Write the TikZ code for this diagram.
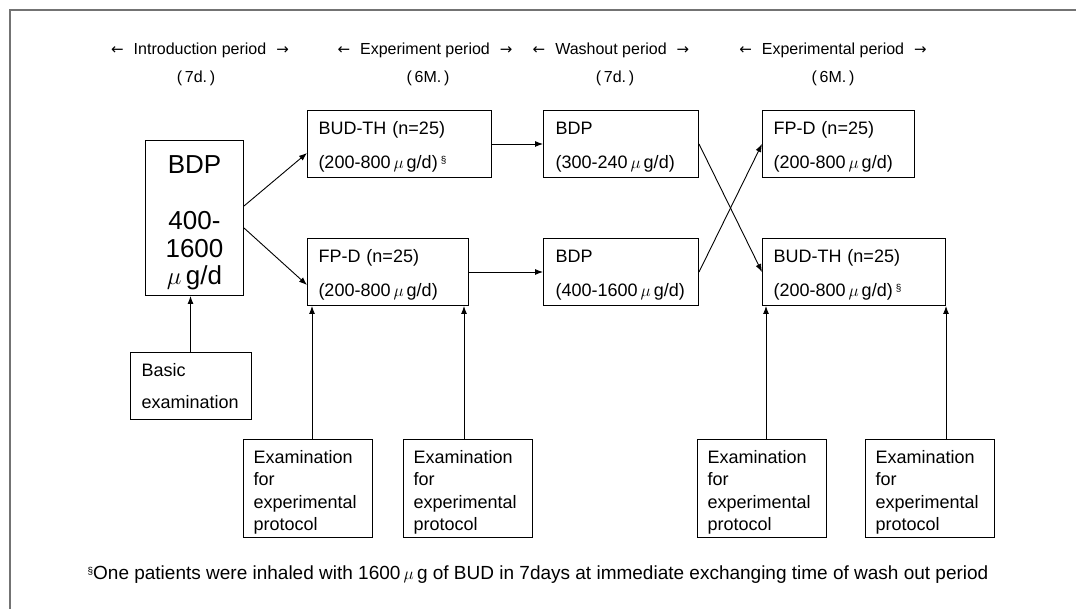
\documentclass[tikz,border=0pt]{standalone}
\usepackage{fontspec}
\setmainfont{Liberation Sans}
\newfontfamily\arrfont{DejaVu Sans}
\usetikzlibrary{arrows.meta,calc}
\newcommand\harr[1]{{\arrfont\fontsize{15}{15}\selectfont #1}}
\newcommand\sect{{\fontsize{10}{10}\selectfont\raisebox{5pt}{§}}}
\newcommand\mug{$\mu$\,g/d}
\newcommand\st[1]{\rule{0pt}{#1}}
\begin{document}
\begin{tikzpicture}[x=1pt,y=-1pt,
 box/.style={draw,line width=1pt,anchor=north west,inner xsep=11pt,inner ysep=0pt,align=left,minimum height=67pt,font=\fontsize{18}{34}\selectfont},
 exam/.style={box,font=\fontsize{18}{22.3}\selectfont,inner xsep=10pt,text width=109pt,minimum height=98pt},
 arr/.style={line width=0.9pt,-{Latex[length=8pt,width=6pt]}},
 hdr/.style={font=\fontsize{16}{18}\selectfont},
 ]
\useasboundingbox (0,0) rectangle (1076,609);
\draw[black!55,line width=1.5pt] (10,609) -- (10,10) -- (1076,10);

% header
\node[hdr] (h1) at (200,50) {\harr{←}\hspace{10pt}Introduction period\hspace{10pt}\harr{→}};
\node[hdr] (d1) at (196,78) {(\,7d.\,)};
\node[hdr] (h2) at (425,50) {\harr{←}\hspace{10pt}Experiment period\hspace{10pt}\harr{→}};
\node[hdr] (d2) at (428,78) {(\,6M.\,)};
\node[hdr] (h3) at (611,50) {\harr{←}\hspace{10pt}Washout period\hspace{10pt}\harr{→}};
\node[hdr] (d3) at (615,78) {(\,7d.\,)};
\node[hdr] (h4) at (833,50) {\harr{←}\hspace{10pt}Experimental period\hspace{10pt}\harr{→}};
\node[hdr] (d4) at (833,78) {(\,6M.\,)};

% boxes
\node[box,inner xsep=0pt,text width=98pt,align=center,minimum height=155pt,font=\fontsize{26}{27.5}\selectfont] (bdpbig) at (145,140)
  {\st{27pt}BDP\\[29pt]400-\\1600\\$\mu$\,g/d};
\node[box,text width=162pt] (budL) at (307,110) {\st{19pt}BUD-TH (n=25)\\(200-800\,\mug)\,\sect};
\node[box,text width=139pt] (fpL) at (307,238) {\st{19pt}FP-D (n=25)\\(200-800\,\mug)};
\node[box,inner xsep=12pt,text width=131pt] (bdp1) at (543,110) {\st{19pt}BDP\\(300-240\,\mug)};
\node[box,inner xsep=12pt,text width=131pt] (bdp2) at (543,238) {\st{19pt}BDP\\(400-1600\,\mug)};
\node[box,text width=130pt] (fpR) at (762,110) {\st{19pt}FP-D (n=25)\\(200-800\,\mug)};
\node[box,text width=161pt] (budR) at (762,238) {\st{19pt}BUD-TH (n=25)\\(200-800\,\mug)\,\sect};
\node[box,text width=99pt,font=\fontsize{18}{32}\selectfont] (basic) at (130,352) {Basic\\examination};
\node[exam] (exam1) at (243,439) {\st{21pt}Examination\\for\\experimental\\protocol};
\node[exam] (exam2) at (403,439) {\st{21pt}Examination\\for\\experimental\\protocol};
\node[exam] (exam3) at (697,439) {\st{21pt}Examination\\for\\experimental\\protocol};
\node[exam] (exam4) at (865,439) {\st{21pt}Examination\\for\\experimental\\protocol};

% footnote
\node[font=\fontsize{19}{22}\selectfont] (fn) at (538,575)
  {\sect One patients were inhaled with 1600\,$\mu$\,g of BUD in 7days at immediate exchanging time of wash out period};

% connectors
\draw[arr] ($(bdpbig.east)+(0,-12)$) -- ($(budL.west)+(0,9)$);
\draw[arr] ($(bdpbig.east)+(0,10)$) -- ($(fpL.west)+(0,13)$);
\draw[arr] (budL.east) -- (bdp1.west);
\draw[arr] (fpL.east) -- (bdp2.west);
\draw[arr] (bdp1.east) -- (budR.west);
\draw[arr] (bdp2.east) -- (fpR.west);
\coordinate (c0) at ($(bdpbig.south)+(-4,0)$);
\draw[arr] (c0 |- basic.north) -- (c0);
\coordinate (c1) at ($(fpL.south west)+(5,0)$);
\coordinate (c2) at ($(fpL.south east)+(-5,0)$);
\coordinate (c3) at ($(budR.south west)+(4,0)$);
\coordinate (c4) at (budR.south east);
\draw[arr] (c1 |- exam1.north) -- (c1);
\draw[arr] (c2 |- exam2.north) -- (c2);
\draw[arr] (c3 |- exam3.north) -- (c3);
\draw[arr] (c4 |- exam4.north) -- (c4);
\end{tikzpicture}
\end{document}
